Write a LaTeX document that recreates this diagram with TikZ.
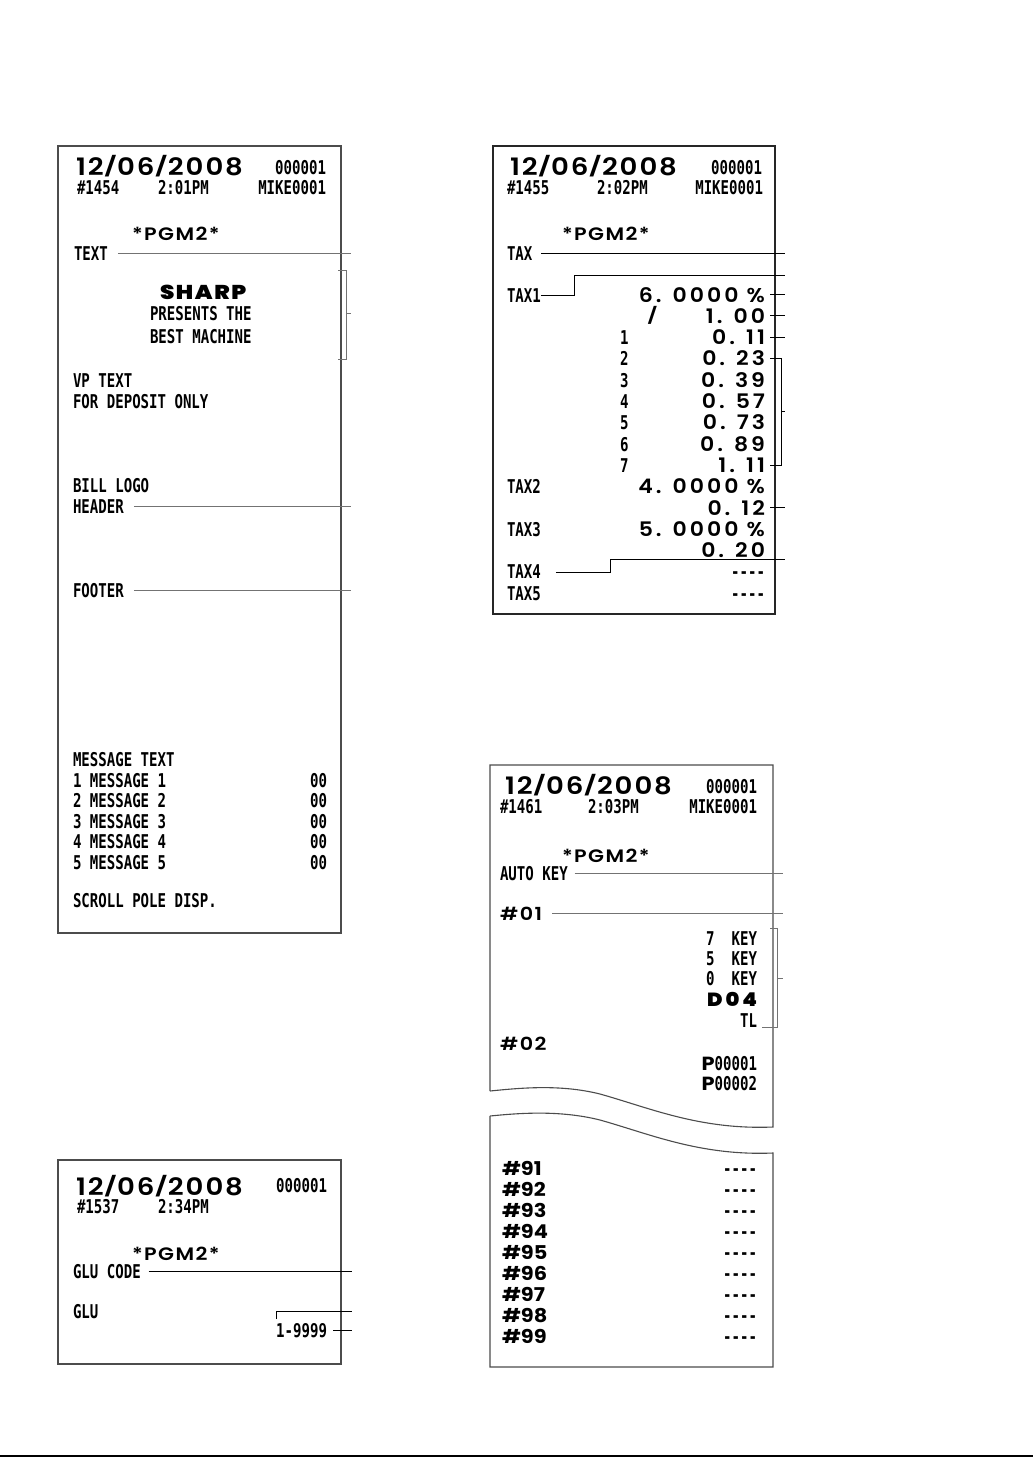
\documentclass[tikz,border=0pt]{standalone}
\usepackage{fontspec}
\usepackage{tikz}
\newfontfamily\rcptfont[FakeStretch=0.74]{DejaVu Sans Mono}
\newfontfamily\gothfont[FakeStretch=1.1]{Poppins}
\newfontfamily\gothmed[FakeStretch=1.15,LetterSpace=8]{Poppins SemiBold}
\newfontfamily\gothwide[FakeStretch=1.1,LetterSpace=15]{Poppins SemiBold}
\newcommand\dsl{\raisebox{1.5pt}[0.7em][0pt]{\scalebox{1}[0.8]{/}}}

\begin{document}
\begin{tikzpicture}[x=1pt, y=-1pt, every node/.style={inner sep=0pt, outer sep=0pt},
  rc/.style={font=\rcptfont\bfseries\fontsize{19}{19}\selectfont},
  dt/.style={font=\gothmed\fontsize{24}{24}\selectfont},
  pg/.style={font=\gothmed\fontsize{18}{18}\selectfont},
  amt/.style={font=\gothwide\fontsize{20}{20}\selectfont},
  hsh/.style={font=\gothfont\bfseries\fontsize{19}{19}\selectfont},
  slip/.style={draw=black!70, line width=1.1pt},
  lead/.style={draw, line width=0.9pt}, glead/.style={draw=black!55, line width=0.9pt}]
\useasboundingbox (0,0) rectangle (1033,1459);

% text programming slip
\draw[slip] (58,146) rectangle (341,933);
\node[dt, anchor=base west] (d1) at (76,175) {12\dsl 06\dsl 2008};
\node[rc, anchor=base east] (n1) at (326,174) {000001};
\node[rc, anchor=base west] (c1) at (77,194) {\#1454};
\node[rc, anchor=base west] (t1) at (158,194) {2:01PM};
\node[rc, anchor=base east] (m1) at (326,194) {MIKE0001};
\node[pg, anchor=base west] (p1) at (132,240) {*PGM2*};
\node[rc, anchor=base west] (text) at (74,260) {TEXT};
\node[font=\gothmed\bfseries\fontsize{20}{20}\selectfont, anchor=base west] (sharp) at (160,299) {SHARP};
\node[rc, anchor=base west] (pres) at (150,320) {PRESENTS THE};
\node[rc, anchor=base west] (best) at (150,343) {BEST MACHINE};
\node[rc, anchor=base west] (vp) at (73,387) {VP TEXT};
\node[rc, anchor=base west] (dep) at (73,408) {FOR DEPOSIT ONLY};
\node[rc, anchor=base west] (logo) at (73,492) {BILL LOGO};
\node[rc, anchor=base west] (header) at (73,513) {HEADER};
\node[rc, anchor=base west] (footer) at (73,597) {FOOTER};
\node[rc, anchor=base west] (msgt) at (73,766) {MESSAGE TEXT};
\foreach \i in {1,...,5}{
  \pgfmathsetmacro\yb{787+(\i-1)*20.6}
  \node[rc, anchor=base west] (msg\i) at (73,\yb) {\i\ MESSAGE \i};
  \node[rc, anchor=base east] (msgv\i) at (327,\yb) {00};
}
\node[rc, anchor=base west] (scroll) at (73,907) {SCROLL POLE DISP.};
\coordinate (R1x) at (351,0);
\coordinate (bk1t) at (338,270); \coordinate (bk1b) at (338,359); \coordinate (bk1m) at (346,313);
\draw[glead] ([xshift=10pt]text.east) -- (text.east -| R1x);
\draw[glead] (bk1t) -- ++(8,0) -- ([xshift=8pt]bk1b) -- (bk1b);
\draw[glead] (bk1m) -- (bk1m -| R1x);
\draw[glead] ([xshift=10pt]header.east) -- (header.east -| R1x);
\draw[glead] ([xshift=10pt]footer.east) -- (footer.east -| R1x);

% tax programming slip
\draw[slip, draw=black!85] (493,146) rectangle (775,614);
\node[dt, anchor=base west] (d2) at (510,175) {12\dsl 06\dsl 2008};
\node[rc, anchor=base east] (n2) at (762,174) {000001};
\node[rc, anchor=base west] (c2) at (507,194) {\#1455};
\node[rc, anchor=base west] (t2) at (597,194) {2:02PM};
\node[rc, anchor=base east] (m2) at (763,194) {MIKE0001};
\node[pg, anchor=base west] (p2) at (562,240) {*PGM2*};
\node[rc, anchor=base west] (tax) at (507,260) {TAX};
\foreach \k/\lbl/\num/\val in {0/TAX1//6. 0000 \%, 1///1. 00, 2//1/0. 11, 3//2/0. 23, 4//3/0. 39,
    5//4/0. 57, 6//5/0. 73, 7//6/0. 89, 8//7/1. 11, 9/TAX2//4. 0000 \%, 10///0. 12, 11/TAX3//5. 0000 \%, 12///0. 20}{
  \pgfmathsetmacro\yb{302+21.3*\k}
  \node[rc, anchor=base west] (tl\k) at (507,\yb) {\lbl};
  \node[rc, anchor=base west] (tn\k) at (620,\yb) {\num};
  \node[amt, anchor=base east] (tv\k) at (765,\yb) {\val};
}
\foreach \k/\lbl in {13/TAX4, 14/TAX5}{
  \pgfmathsetmacro\yb{302+21.3*\k}
  \node[rc, anchor=base west] (tl\k) at (507,\yb) {\lbl};
  \node[rc, anchor=base east] (tv\k) at (765,\yb) {-{}-{}-{}-};
}
\node[amt, anchor=base west] (slash) at (647,323.3) {\dsl};
\coordinate (R2x) at (785,0); \coordinate (bk2) at (781,0);
\coordinate (tax1R) at (785,275); \coordinate (tax4R) at (785,559); \coordinate (bk2m) at (781,411);
\draw[lead] ([xshift=9pt]tax.east) -- (tax.east -| R2x);
\draw[lead] (tl0.east) -- ++(34,0) |- (tax1R);
\foreach \k in {0,1,2,10}{
  \draw[lead] ([xshift=5pt]tv\k.east) -- (tv\k.east -| R2x);
}
\draw[lead] ([xshift=5pt]tv3.east) -- (tv3.east -| bk2) -- (tv8.east -| bk2) -- ([xshift=5pt]tv8.east);
\draw[lead] (bk2m) -- (bk2m -| R2x);
\draw[lead] ([xshift=15pt]tl13.east) -- ++(55,0) |- (tax4R);

% auto key programming slip (torn)
\draw[slip] (490,1091) -- (490,765) -- (773,765) -- (773,1127) .. controls (700,1130) and (650,1108) .. (600,1094)
  .. controls (560,1084) and (520,1088) .. (490,1091);
\draw[slip] (490,1116) -- (490,1367) -- (773,1367) -- (773,1153) .. controls (700,1156) and (650,1134) .. (600,1120)
  .. controls (560,1110) and (520,1113) .. (490,1116);
\node[dt, anchor=base west] (d3) at (505,794) {12\dsl 06\dsl 2008};
\node[rc, anchor=base east] (n3) at (757,793) {000001};
\node[rc, anchor=base west] (c3) at (500,813) {\#1461};
\node[rc, anchor=base west] (t3) at (588,813) {2:03PM};
\node[rc, anchor=base east] (m3) at (757,813) {MIKE0001};
\node[pg, anchor=base west] (p3) at (562,862) {*PGM2*};
\node[rc, anchor=base west] (autokey) at (500,880) {AUTO KEY};
\node[pg, anchor=base west] (key1) at (500,920) {\#01};
\node[rc, anchor=base east] (k7) at (757,945) {7~~KEY};
\node[rc, anchor=base east] (k5) at (757,965) {5~~KEY};
\node[rc, anchor=base east] (k0) at (757,985) {0~~KEY};
\node[amt, font=\gothwide\bfseries\fontsize{19}{19}\selectfont, anchor=base east] (kd) at (757,1006) {D04};
\node[rc, anchor=base east] (ktl) at (757,1027) {TL};
\node[pg, anchor=base west] (key2) at (500,1050) {\#02};
\node[rc, anchor=base east] (pp1) at (757,1070) {{\gothfont\bfseries P}00001};
\node[rc, anchor=base east] (pp2) at (757,1090) {{\gothfont\bfseries P}00002};
\foreach \k in {1,...,9}{
  \pgfmathsetmacro\yb{1175+21.1*(\k-1)}
  \node[hsh, anchor=base west] (key9\k) at (502,\yb) {\#9\k};
  \node[rc, anchor=base east] (kv9\k) at (757,\yb) {-{}-{}-{}-};
}
\coordinate (R3x) at (783,0); \coordinate (bk3t) at (770,928); \coordinate (bk3b) at (762,1027); \coordinate (bk3m) at (777,978);
\draw[glead] ([xshift=7pt]autokey.east) -- (autokey.east -| R3x);
\draw[glead] ([xshift=10pt]key1.east) -- (key1.east -| R3x);
\draw[glead] (bk3t) -- (bk3t -| bk3m) -- (bk3b -| bk3m) -- (bk3b);
\draw[glead] (bk3m) -- (bk3m -| R3x);

% glu programming slip
\draw[slip] (58,1160) rectangle (341,1364);
\node[dt, anchor=base west] (d4) at (76,1195) {12\dsl 06\dsl 2008};
\node[rc, anchor=base east] (n4) at (327,1192) {000001};
\node[rc, anchor=base west] (c4) at (77,1213) {\#1537};
\node[rc, anchor=base west] (t4) at (158,1213) {2:34PM};
\node[pg, anchor=base west] (p4) at (132,1260) {*PGM2*};
\node[rc, anchor=base west] (glucode) at (73,1278) {GLU CODE};
\node[rc, anchor=base west] (glu) at (73,1318) {GLU};
\node[rc, anchor=base east] (rng) at (327,1337) {1-9999};
\coordinate (R4x) at (352,0); \coordinate (gluR) at (352,1311);
\draw[lead] ([xshift=8pt]glucode.east) -- (glucode.east -| R4x);
\draw[lead] ([yshift=4pt]rng.north west) |- (gluR);
\draw[lead] ([xshift=6pt]rng.east) -- (rng.east -| R4x);

\draw[line width=1.6pt] (0,1456) -- (1033,1456);
\end{tikzpicture}
\end{document}
